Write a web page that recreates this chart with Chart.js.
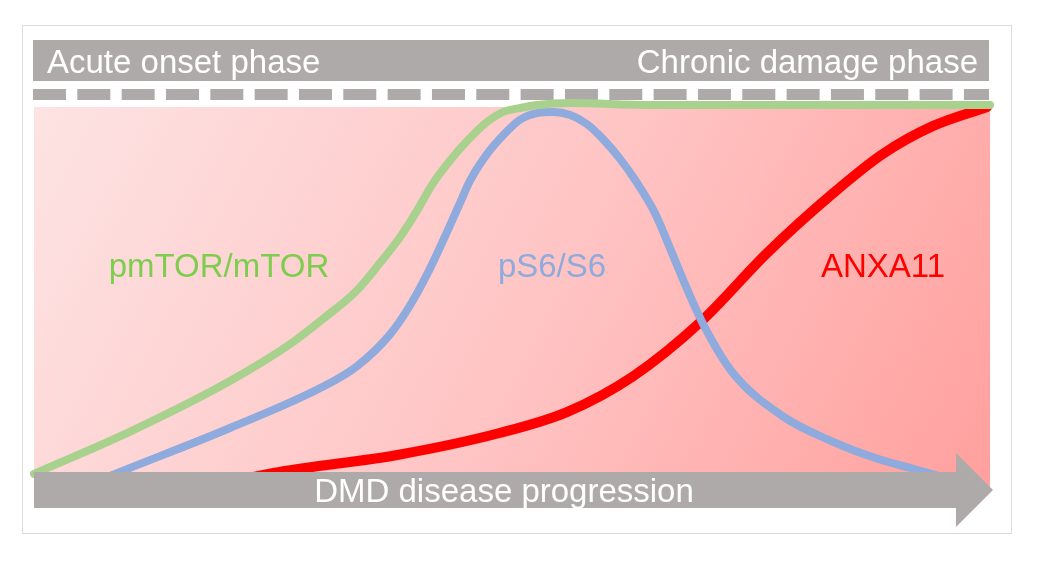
<!DOCTYPE html>
<html>
<head>
<meta charset="utf-8">
<title>DMD disease progression</title>
<script src="https://cdn.jsdelivr.net/npm/chart.js@4/dist/chart.umd.min.js"></script>
<style>
  html, body { margin: 0; padding: 0; background: #fff; }
  canvas { display: block; }
</style>
</head>
<body>
<canvas id="chart" width="1052" height="564"></canvas>
<script>
// ----- DATA -----
// x: disease progression (0-100), y: relative level (0-100)
const seriesNames = ['pmTOR/mTOR', 'pS6/S6', 'ANXA11'];
const phaseLabels = ['Acute onset phase', 'Chronic damage phase'];
const axisLabel = 'DMD disease progression';

const mtorX = [0, 10.0, 20.5, 26.8, 30.2, 33.8, 36.2, 38.3, 40.1, 41.7, 43.5, 45.4, 47.4, 49.1, 50.8, 52.6, 56.1, 64.4, 80.1, 100];
const mtorY = [4.2, 15.1, 28.3, 37.9, 44.4, 51.9, 59.0, 65.7, 72.7, 79.5, 85.5, 90.9, 95.6, 98.2, 99.2, 100.0, 100.5, 100.0, 100.0, 100.0];

const s6X = [5.9, 9.0, 20.5, 30.2, 33.8, 37.2, 39.3, 41.4, 43.2, 44.6, 45.6, 47.4, 49.1, 50.8, 52.6, 54.3, 56.1, 57.8, 59.5, 61.3, 63.1, 65.0, 66.7, 68.4, 70.2, 73.1, 78.3, 83.6, 88.0, 92.4, 96.9];
const s6Y = [1.6, 4.7, 16.1, 26.8, 32.2, 40.3, 47.8, 57.4, 67.0, 74.8, 80.3, 87.3, 92.2, 96.1, 97.9, 98.2, 97.4, 95.1, 91.2, 86.0, 79.7, 71.7, 61.8, 51.7, 42.1, 30.4, 19.2, 12.5, 8.3, 5.2, 2.1];

const anxaX = [19.5, 25.7, 38.0, 48.7, 55.8, 62.7, 69.7, 76.7, 83.6, 88.8, 94.0, 99.7];
const anxaY = [1.6, 4.7, 9.1, 14.8, 20.3, 29.6, 43.6, 61.6, 77.1, 87.3, 94.5, 99.5];

// ----- ESTILO -----
const gray = '#aeaaaa';
const lineColors = ['#a9d18e', '#8faadc', '#ff0000'];
const labelColors = ['#7fcd4f', '#8faadc', '#ff0000'];
const fontFamily = '"Liberation Sans", Arial, Helvetica, sans-serif';

function toPoints(xs, ys) {
    return xs.map((x, i) => ({ x: x, y: ys[i] }));
}

// Decoración: marco, barra de fases, guiones, fondo degradado, flecha y textos
const schemePlugin = {
    id: 'scheme',
    beforeDatasetsDraw(chart) {
        const ctx = chart.ctx;
        const xs = chart.scales.x;
        const ys = chart.scales.y;
        const left = xs.getPixelForValue(0);
        const right = xs.getPixelForValue(100);
        ctx.save();

        // marco exterior
        ctx.strokeStyle = '#dcdcdc';
        ctx.lineWidth = 1;
        ctx.strokeRect(22.5, 25.5, 989, 508);

        // barra superior de fases
        ctx.fillStyle = gray;
        ctx.fillRect(left - 1, 40, right - left, 41);
        ctx.fillStyle = '#ffffff';
        ctx.font = '33px ' + fontFamily;
        ctx.textBaseline = 'alphabetic';
        ctx.textAlign = 'left';
        ctx.fillText(phaseLabels[0], 47, 73);
        ctx.textAlign = 'right';
        ctx.fillText(phaseLabels[1], 978, 73);

        // línea discontinua
        ctx.fillStyle = gray;
        ctx.beginPath();
        ctx.rect(left - 1, 88, right - left, 12);
        ctx.clip();
        for (let dx = left - 1; dx < right; dx += 44.33) {
            ctx.fillRect(dx, 89, 33, 11);
        }
        ctx.restore();

        // fondo degradado
        ctx.save();
        const top = ys.getPixelForValue(100) + 2;
        const bottom = ys.getPixelForValue(0) - 2;
        const grad = ctx.createLinearGradient(left, top, right, bottom + 120);
        grad.addColorStop(0, '#fde3e3');
        grad.addColorStop(0.5, '#ffc4c4');
        grad.addColorStop(1, '#ff9c99');
        ctx.fillStyle = grad;
        ctx.fillRect(left, top, right - left, bottom - top);
        ctx.restore();
    },
    afterDatasetsDraw(chart) {
        const ctx = chart.ctx;
        const xs = chart.scales.x;
        const ys = chart.scales.y;
        const left = xs.getPixelForValue(0);
        const yMid = ys.getPixelForValue(0);
        ctx.save();

        // flecha de progresión
        ctx.fillStyle = gray;
        ctx.beginPath();
        ctx.moveTo(left, yMid - 18);
        ctx.lineTo(956, yMid - 18);
        ctx.lineTo(956, yMid - 37);
        ctx.lineTo(993, yMid);
        ctx.lineTo(956, yMid + 37);
        ctx.lineTo(956, yMid + 18);
        ctx.lineTo(left, yMid + 18);
        ctx.closePath();
        ctx.fill();

        ctx.fillStyle = '#ffffff';
        ctx.font = '33px ' + fontFamily;
        ctx.textAlign = 'center';
        ctx.textBaseline = 'alphabetic';
        ctx.fillText(axisLabel, 504, yMid + 12);

        // etiquetas de las series
        const labelX = [219, 552, 883];
        seriesNames.forEach((name, i) => {
            ctx.fillStyle = labelColors[i];
            ctx.fillText(name, labelX[i], 277);
        });
        ctx.restore();
    }
};

const ctx = document.getElementById('chart');
new Chart(ctx, {
    type: 'line',
    data: {
        datasets: [
            { label: seriesNames[0], data: toPoints(mtorX, mtorY), borderColor: lineColors[0], borderWidth: 8 },
            { label: seriesNames[1], data: toPoints(s6X, s6Y), borderColor: lineColors[1], borderWidth: 8 },
            { label: seriesNames[2], data: toPoints(anxaX, anxaY), borderColor: lineColors[2], borderWidth: 10 }
        ].map(ds => Object.assign(ds, {
            fill: false,
            pointRadius: 0,
            cubicInterpolationMode: 'monotone',
            borderCapStyle: 'round',
            borderJoinStyle: 'round',
            clip: false
        }))
    },
    options: {
        responsive: false,
        animation: false,
        layout: { padding: { left: 34, right: 62, top: 105, bottom: 74 } },
        plugins: {
            legend: { display: false },
            tooltip: { enabled: false }
        },
        scales: {
            x: { type: 'linear', min: 0, max: 100, display: false },
            y: { type: 'linear', min: 0, max: 100, display: false }
        }
    },
    plugins: [schemePlugin]
});
</script>
</body>
</html>
